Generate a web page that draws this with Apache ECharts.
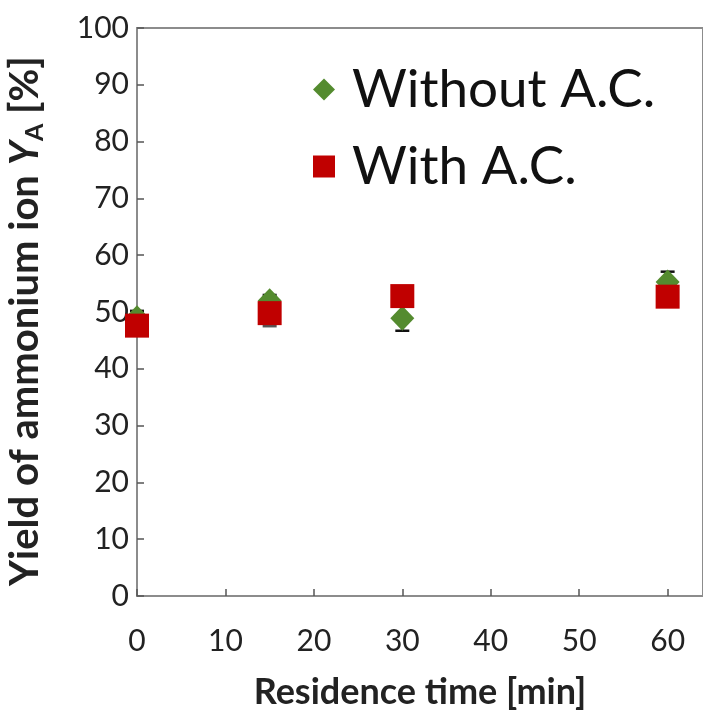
<!DOCTYPE html>
<html>
<head>
<meta charset="utf-8">
<script src="https://cdn.jsdelivr.net/npm/echarts@6/dist/echarts.min.js"></script>
<style>html,body{margin:0;padding:0;background:#fff;}#c{width:703px;height:715px;}</style>
</head>
<body>
<div id="c"></div>
<script>
var times = [0, 15, 30, 60];
var withoutAC = [49.0, 52.0, 48.9, 55.3];
var withoutErr = [1.2, 1.0, 2.2, 1.8];
var withAC = [47.6, 49.8, 52.8, 52.7];
var withErr = [1.0, 2.3, 1.0, 1.0];
var xTicks = [0, 10, 20, 30, 40, 50, 60];
var yTicks = [0, 10, 20, 30, 40, 50, 60, 70, 80, 90, 100];

var FONT = 'Lato, "Open Sans", sans-serif';
var chart = echarts.init(document.getElementById('c'));

function errData(vals, errs) {
  return times.map(function (t, i) { return [t, vals[i] - errs[i], vals[i] + errs[i]]; });
}
function errRender(color) {
  return function (params, api) {
    var x = api.value(0);
    var lo = api.coord([x, api.value(1)]);
    var hi = api.coord([x, api.value(2)]);
    var w = 7;
    var st = { stroke: color, lineWidth: 2.5 };
    return {
      type: 'group',
      children: [
        { type: 'line', shape: { x1: lo[0], y1: lo[1], x2: hi[0], y2: hi[1] }, style: st },
        { type: 'line', shape: { x1: lo[0] - w, y1: lo[1], x2: lo[0] + w, y2: lo[1] }, style: st },
        { type: 'line', shape: { x1: hi[0] - w, y1: hi[1], x2: hi[0] + w, y2: hi[1] }, style: st }
      ]
    };
  };
}

chart.setOption({
  animation: false,
  backgroundColor: '#fff',
  grid: { left: 137, top: 28, bottom: 119, right: 0, containLabel: false, outerBoundsMode: 'none',
    show: true, borderColor: '#8c8c8c', borderWidth: 2, backgroundColor: 'transparent' },
  legend: {
    orient: 'vertical', left: 308, top: 58, itemGap: 24,
    itemWidth: 22, itemHeight: 22,
    textStyle: { fontFamily: FONT, fontSize: 53, color: '#111', padding: [0, 0, 0, 12] },
    data: [
      { name: 'Without A.C.', icon: 'diamond' },
      { name: 'With A.C.', icon: 'rect' }
    ]
  },
  xAxis: {
    type: 'value', min: 0, max: 64, interval: 10,
    name: 'Residence time [min]', nameLocation: 'middle', nameGap: 78, nameTextStyle: { fontFamily: FONT, fontSize: 36, fontWeight: 'bold', color: '#222' },
    axisLine: { lineStyle: { color: '#8c8c8c', width: 2 } },
    axisTick: { inside: true, length: 7, lineStyle: { color: '#555', width: 1.5 } },
    axisLabel: { fontFamily: FONT, fontSize: 30, color: '#222', margin: 30, showMaxLabel: false,
      formatter: function (v) { return xTicks.indexOf(v) >= 0 ? String(v) : ''; } },
    splitLine: { show: false }
  },
  yAxis: {
    type: 'value', min: 0, max: 100, interval: 10,
    name: '{b|Yield of ammonium ion }{i|Y}{s|A}{b| [%]}', nameLocation: 'middle', nameGap: 90, nameRotate: 90,
    nameTextStyle: {
      padding: [0, 18, 0, 0],
      rich: {
        b: { fontFamily: FONT, fontSize: 40, fontWeight: 'bold', color: '#222' },
        i: { fontFamily: FONT, fontSize: 40, fontWeight: 'bold', fontStyle: 'italic', color: '#222' },
        s: { fontFamily: FONT, fontSize: 25, fontWeight: 'bold', color: '#222', verticalAlign: 'bottom', padding: [18, 0, 0, 0] }
      }
    },
    axisLine: { lineStyle: { color: '#8c8c8c', width: 2 } },
    axisTick: { inside: true, length: 7, lineStyle: { color: '#555', width: 1.5 } },
    axisLabel: { fontFamily: FONT, fontSize: 30, color: '#222', margin: 8,
      formatter: function (v) { return yTicks.indexOf(v) >= 0 ? String(v) : ''; } },
    splitLine: { show: false }
  },
  series: [
    { name: 'errWithout', type: 'custom', renderItem: errRender('#111'), data: errData(withoutAC, withoutErr), encode: { x: 0, y: [1, 2] }, silent: true },
    { name: 'Without A.C.', type: 'scatter', symbol: 'diamond', symbolSize: [24, 25],
      itemStyle: { color: '#548b2f', opacity: 1 },
      data: times.map(function (t, i) { return [t, withoutAC[i]]; }) },
    { name: 'errWith', type: 'custom', renderItem: errRender('#555'), data: errData(withAC, withErr), encode: { x: 0, y: [1, 2] }, silent: true },
    { name: 'With A.C.', type: 'scatter', symbol: 'rect', symbolSize: 24,
      itemStyle: { color: '#c00000', opacity: 1, borderRadius: 3 },
      data: times.map(function (t, i) { return [t, withAC[i]]; }) }
  ]
});
</script>
</body>
</html>
